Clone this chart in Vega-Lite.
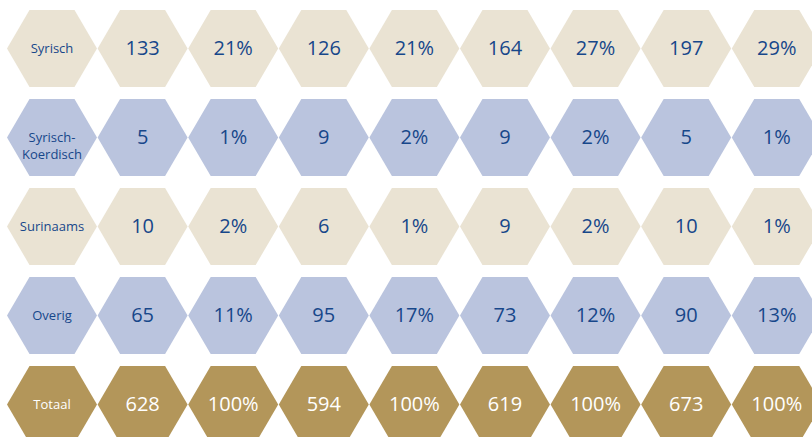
{
  "$schema": "https://vega.github.io/schema/vega-lite/v6.json",
  "width": 812,
  "height": 437,
  "autosize": {"type": "none"},
  "padding": 0,
  "background": "white",
  "view": {"stroke": null},
  "data": {"values": [
    {"r": 0, "c": 0, "rij": "Syrisch", "soort": "label", "t": "Syrisch"},
    {"r": 0, "c": 1, "rij": "Syrisch", "soort": "waarde", "t": "133"},
    {"r": 0, "c": 2, "rij": "Syrisch", "soort": "waarde", "t": "21%"},
    {"r": 0, "c": 3, "rij": "Syrisch", "soort": "waarde", "t": "126"},
    {"r": 0, "c": 4, "rij": "Syrisch", "soort": "waarde", "t": "21%"},
    {"r": 0, "c": 5, "rij": "Syrisch", "soort": "waarde", "t": "164"},
    {"r": 0, "c": 6, "rij": "Syrisch", "soort": "waarde", "t": "27%"},
    {"r": 0, "c": 7, "rij": "Syrisch", "soort": "waarde", "t": "197"},
    {"r": 0, "c": 8, "rij": "Syrisch", "soort": "waarde", "t": "29%"},
    {"r": 1, "c": 0, "rij": "Syrisch-Koerdisch", "soort": "label", "t": "Syrisch-\nKoerdisch"},
    {"r": 1, "c": 1, "rij": "Syrisch-Koerdisch", "soort": "waarde", "t": "5"},
    {"r": 1, "c": 2, "rij": "Syrisch-Koerdisch", "soort": "waarde", "t": "1%"},
    {"r": 1, "c": 3, "rij": "Syrisch-Koerdisch", "soort": "waarde", "t": "9"},
    {"r": 1, "c": 4, "rij": "Syrisch-Koerdisch", "soort": "waarde", "t": "2%"},
    {"r": 1, "c": 5, "rij": "Syrisch-Koerdisch", "soort": "waarde", "t": "9"},
    {"r": 1, "c": 6, "rij": "Syrisch-Koerdisch", "soort": "waarde", "t": "2%"},
    {"r": 1, "c": 7, "rij": "Syrisch-Koerdisch", "soort": "waarde", "t": "5"},
    {"r": 1, "c": 8, "rij": "Syrisch-Koerdisch", "soort": "waarde", "t": "1%"},
    {"r": 2, "c": 0, "rij": "Surinaams", "soort": "label", "t": "Surinaams"},
    {"r": 2, "c": 1, "rij": "Surinaams", "soort": "waarde", "t": "10"},
    {"r": 2, "c": 2, "rij": "Surinaams", "soort": "waarde", "t": "2%"},
    {"r": 2, "c": 3, "rij": "Surinaams", "soort": "waarde", "t": "6"},
    {"r": 2, "c": 4, "rij": "Surinaams", "soort": "waarde", "t": "1%"},
    {"r": 2, "c": 5, "rij": "Surinaams", "soort": "waarde", "t": "9"},
    {"r": 2, "c": 6, "rij": "Surinaams", "soort": "waarde", "t": "2%"},
    {"r": 2, "c": 7, "rij": "Surinaams", "soort": "waarde", "t": "10"},
    {"r": 2, "c": 8, "rij": "Surinaams", "soort": "waarde", "t": "1%"},
    {"r": 3, "c": 0, "rij": "Overig", "soort": "label", "t": "Overig"},
    {"r": 3, "c": 1, "rij": "Overig", "soort": "waarde", "t": "65"},
    {"r": 3, "c": 2, "rij": "Overig", "soort": "waarde", "t": "11%"},
    {"r": 3, "c": 3, "rij": "Overig", "soort": "waarde", "t": "95"},
    {"r": 3, "c": 4, "rij": "Overig", "soort": "waarde", "t": "17%"},
    {"r": 3, "c": 5, "rij": "Overig", "soort": "waarde", "t": "73"},
    {"r": 3, "c": 6, "rij": "Overig", "soort": "waarde", "t": "12%"},
    {"r": 3, "c": 7, "rij": "Overig", "soort": "waarde", "t": "90"},
    {"r": 3, "c": 8, "rij": "Overig", "soort": "waarde", "t": "13%"},
    {"r": 4, "c": 0, "rij": "Totaal", "soort": "label", "t": "Totaal"},
    {"r": 4, "c": 1, "rij": "Totaal", "soort": "waarde", "t": "628"},
    {"r": 4, "c": 2, "rij": "Totaal", "soort": "waarde", "t": "100%"},
    {"r": 4, "c": 3, "rij": "Totaal", "soort": "waarde", "t": "594"},
    {"r": 4, "c": 4, "rij": "Totaal", "soort": "waarde", "t": "100%"},
    {"r": 4, "c": 5, "rij": "Totaal", "soort": "waarde", "t": "619"},
    {"r": 4, "c": 6, "rij": "Totaal", "soort": "waarde", "t": "100%"},
    {"r": 4, "c": 7, "rij": "Totaal", "soort": "waarde", "t": "673"},
    {"r": 4, "c": 8, "rij": "Totaal", "soort": "waarde", "t": "100%"}
  ]},
  "encoding": {
    "x": {"field": "c", "type": "quantitative", "scale": {"domain": [-0.574, 8.389], "nice": false, "zero": false}, "axis": null},
    "y": {"field": "r", "type": "quantitative", "scale": {"domain": [-0.545, 4.365], "nice": false, "zero": false, "reverse": true}, "axis": null}
  },
  "layer": [
    {
      "mark": {"type": "point", "filled": true, "opacity": 1, "strokeWidth": 0, "size": 8100,
        "shape": "M-1,0L-0.5,-0.855L0.5,-0.855L1,0L0.5,0.855L-0.5,0.855Z"},
      "encoding": {
        "color": {"field": "rij", "type": "nominal", "legend": null,
          "scale": {"domain": ["Syrisch", "Syrisch-Koerdisch", "Surinaams", "Overig", "Totaal"],
                    "range": ["#EAE3D3", "#BAC4DE", "#EAE3D3", "#BAC4DE", "#B3965A"]}}
      }
    },
    {
      "mark": {"type": "text", "font": "Open Sans", "fontWeight": 500, "align": "center", "baseline": "middle", "lineBreak": "\n", "lineHeight": 17},
      "encoding": {
        "text": {"field": "t", "type": "nominal"},
        "size": {"field": "soort", "type": "nominal", "legend": null,
          "scale": {"domain": ["label", "waarde"], "range": [13, 20]}},
        "color": {"field": "rij", "type": "nominal", "legend": null,
          "scale": {"domain": ["Syrisch", "Syrisch-Koerdisch", "Surinaams", "Overig", "Totaal"],
                    "range": ["#17478A", "#17478A", "#17478A", "#17478A", "#FFFFFF"]}}
      }
    }
  ],
  "resolve": {"scale": {"color": "independent"}}
}
